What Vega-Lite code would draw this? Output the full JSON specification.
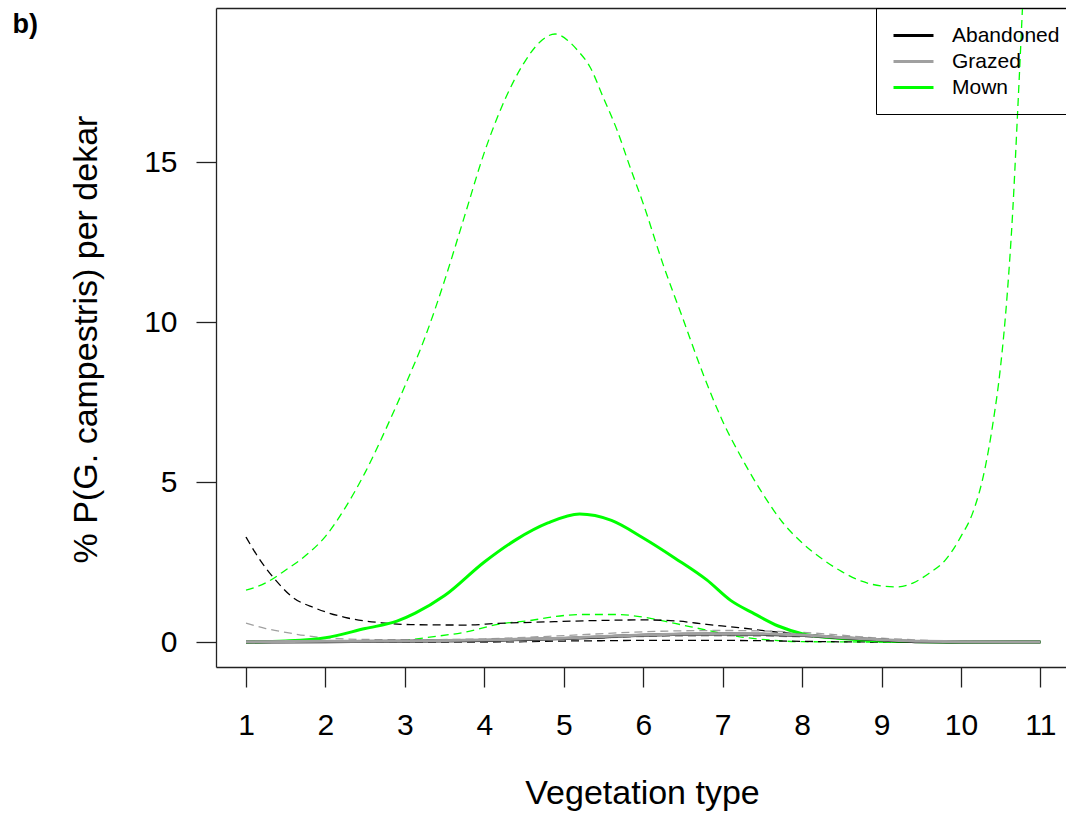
{
  "$schema": "https://vega.github.io/schema/vega-lite/v6.json",
  "autosize": {"type": "none"},
  "width": 850,
  "height": 659,
  "padding": {"left": 216, "top": 8, "right": 0, "bottom": 149},
  "background": "white",
  "config": {
    "view": {"stroke": null},
    "font": "Liberation Sans",
    "axis": {"grid": false, "labelFont": "Liberation Sans", "titleFont": "Liberation Sans", "labelColor": "#000000", "titleColor": "#000000", "titleFontWeight": "normal", "domainColor": "#222222", "tickColor": "#222222", "domainWidth": 1.3, "tickWidth": 1.3},
    "legend": {"labelFont": "Liberation Sans"}
  },
  "data": {"values": [
    {"v":1,"y":0,"t":"Mown","s":"mean"},{"v":1.5,"y":0.03,"t":"Mown","s":"mean"},{"v":2,"y":0.13,"t":"Mown","s":"mean"},{"v":2.5,"y":0.42,"t":"Mown","s":"mean"},{"v":2.9,"y":0.65,"t":"Mown","s":"mean"},{"v":3.13,"y":0.9,"t":"Mown","s":"mean"},{"v":3.5,"y":1.45,"t":"Mown","s":"mean"},{"v":4,"y":2.5,"t":"Mown","s":"mean"},{"v":4.4,"y":3.2,"t":"Mown","s":"mean"},{"v":4.8,"y":3.72,"t":"Mown","s":"mean"},{"v":5.2,"y":4.0,"t":"Mown","s":"mean"},{"v":5.6,"y":3.8,"t":"Mown","s":"mean"},{"v":6,"y":3.25,"t":"Mown","s":"mean"},{"v":6.4,"y":2.62,"t":"Mown","s":"mean"},{"v":6.8,"y":1.94,"t":"Mown","s":"mean"},{"v":7.1,"y":1.3,"t":"Mown","s":"mean"},{"v":7.4,"y":0.88,"t":"Mown","s":"mean"},{"v":7.7,"y":0.5,"t":"Mown","s":"mean"},{"v":8,"y":0.26,"t":"Mown","s":"mean"},{"v":8.5,"y":0.11,"t":"Mown","s":"mean"},{"v":9,"y":0.03,"t":"Mown","s":"mean"},{"v":9.5,"y":0.01,"t":"Mown","s":"mean"},{"v":10,"y":0,"t":"Mown","s":"mean"},{"v":10.5,"y":0,"t":"Mown","s":"mean"},{"v":11,"y":0,"t":"Mown","s":"mean"},
    {"v":1,"y":1.62,"t":"Mown","s":"upper"},{"v":1.25,"y":1.85,"t":"Mown","s":"upper"},{"v":1.5,"y":2.25,"t":"Mown","s":"upper"},{"v":1.75,"y":2.7,"t":"Mown","s":"upper"},{"v":2,"y":3.3,"t":"Mown","s":"upper"},{"v":2.25,"y":4.2,"t":"Mown","s":"upper"},{"v":2.5,"y":5.3,"t":"Mown","s":"upper"},{"v":2.75,"y":6.6,"t":"Mown","s":"upper"},{"v":3,"y":8.0,"t":"Mown","s":"upper"},{"v":3.25,"y":9.5,"t":"Mown","s":"upper"},{"v":3.5,"y":11.3,"t":"Mown","s":"upper"},{"v":3.75,"y":13.3,"t":"Mown","s":"upper"},{"v":4,"y":15.3,"t":"Mown","s":"upper"},{"v":4.25,"y":16.9,"t":"Mown","s":"upper"},{"v":4.5,"y":18.1,"t":"Mown","s":"upper"},{"v":4.7,"y":18.75,"t":"Mown","s":"upper"},{"v":4.89,"y":19.0,"t":"Mown","s":"upper"},{"v":5.05,"y":18.8,"t":"Mown","s":"upper"},{"v":5.17,"y":18.5,"t":"Mown","s":"upper"},{"v":5.33,"y":17.97,"t":"Mown","s":"upper"},{"v":5.5,"y":17.0,"t":"Mown","s":"upper"},{"v":5.67,"y":16.0,"t":"Mown","s":"upper"},{"v":5.84,"y":14.8,"t":"Mown","s":"upper"},{"v":6,"y":13.7,"t":"Mown","s":"upper"},{"v":6.25,"y":11.8,"t":"Mown","s":"upper"},{"v":6.5,"y":10.1,"t":"Mown","s":"upper"},{"v":6.75,"y":8.4,"t":"Mown","s":"upper"},{"v":7,"y":6.9,"t":"Mown","s":"upper"},{"v":7.25,"y":5.7,"t":"Mown","s":"upper"},{"v":7.5,"y":4.65,"t":"Mown","s":"upper"},{"v":7.75,"y":3.75,"t":"Mown","s":"upper"},{"v":8,"y":3.1,"t":"Mown","s":"upper"},{"v":8.25,"y":2.6,"t":"Mown","s":"upper"},{"v":8.5,"y":2.2,"t":"Mown","s":"upper"},{"v":8.75,"y":1.9,"t":"Mown","s":"upper"},{"v":9,"y":1.75,"t":"Mown","s":"upper"},{"v":9.2,"y":1.72,"t":"Mown","s":"upper"},{"v":9.4,"y":1.85,"t":"Mown","s":"upper"},{"v":9.6,"y":2.15,"t":"Mown","s":"upper"},{"v":9.8,"y":2.55,"t":"Mown","s":"upper"},{"v":10,"y":3.3,"t":"Mown","s":"upper"},{"v":10.15,"y":4.05,"t":"Mown","s":"upper"},{"v":10.3,"y":5.4,"t":"Mown","s":"upper"},{"v":10.4,"y":6.8,"t":"Mown","s":"upper"},{"v":10.5,"y":8.65,"t":"Mown","s":"upper"},{"v":10.58,"y":10.8,"t":"Mown","s":"upper"},{"v":10.65,"y":13.4,"t":"Mown","s":"upper"},{"v":10.71,"y":16.4,"t":"Mown","s":"upper"},{"v":10.77,"y":19.6,"t":"Mown","s":"upper"},{"v":10.85,"y":24,"t":"Mown","s":"upper"},{"v":11,"y":36,"t":"Mown","s":"upper"},
    {"v":1,"y":0,"t":"Mown","s":"lower"},{"v":2,"y":0,"t":"Mown","s":"lower"},{"v":2.5,"y":0.01,"t":"Mown","s":"lower"},{"v":3,"y":0.06,"t":"Mown","s":"lower"},{"v":3.34,"y":0.16,"t":"Mown","s":"lower"},{"v":3.76,"y":0.31,"t":"Mown","s":"lower"},{"v":4.17,"y":0.55,"t":"Mown","s":"lower"},{"v":4.6,"y":0.68,"t":"Mown","s":"lower"},{"v":4.9,"y":0.8,"t":"Mown","s":"lower"},{"v":5.25,"y":0.86,"t":"Mown","s":"lower"},{"v":5.65,"y":0.86,"t":"Mown","s":"lower"},{"v":6,"y":0.78,"t":"Mown","s":"lower"},{"v":6.4,"y":0.58,"t":"Mown","s":"lower"},{"v":6.8,"y":0.37,"t":"Mown","s":"lower"},{"v":7.2,"y":0.17,"t":"Mown","s":"lower"},{"v":7.6,"y":0.06,"t":"Mown","s":"lower"},{"v":8,"y":0.01,"t":"Mown","s":"lower"},{"v":9,"y":0,"t":"Mown","s":"lower"},{"v":10,"y":0,"t":"Mown","s":"lower"},{"v":11,"y":0,"t":"Mown","s":"lower"},
    {"v":1,"y":3.28,"t":"Abandoned","s":"upper"},{"v":1.15,"y":2.66,"t":"Abandoned","s":"upper"},{"v":1.37,"y":1.94,"t":"Abandoned","s":"upper"},{"v":1.58,"y":1.41,"t":"Abandoned","s":"upper"},{"v":1.87,"y":1.06,"t":"Abandoned","s":"upper"},{"v":2.28,"y":0.75,"t":"Abandoned","s":"upper"},{"v":2.71,"y":0.6,"t":"Abandoned","s":"upper"},{"v":3.13,"y":0.54,"t":"Abandoned","s":"upper"},{"v":3.76,"y":0.53,"t":"Abandoned","s":"upper"},{"v":4.17,"y":0.58,"t":"Abandoned","s":"upper"},{"v":4.8,"y":0.63,"t":"Abandoned","s":"upper"},{"v":5.4,"y":0.67,"t":"Abandoned","s":"upper"},{"v":6,"y":0.69,"t":"Abandoned","s":"upper"},{"v":6.4,"y":0.66,"t":"Abandoned","s":"upper"},{"v":6.8,"y":0.55,"t":"Abandoned","s":"upper"},{"v":7.2,"y":0.45,"t":"Abandoned","s":"upper"},{"v":7.64,"y":0.32,"t":"Abandoned","s":"upper"},{"v":8.07,"y":0.22,"t":"Abandoned","s":"upper"},{"v":8.48,"y":0.15,"t":"Abandoned","s":"upper"},{"v":8.9,"y":0.08,"t":"Abandoned","s":"upper"},{"v":9.3,"y":0.03,"t":"Abandoned","s":"upper"},{"v":9.7,"y":0.01,"t":"Abandoned","s":"upper"},{"v":10,"y":0,"t":"Abandoned","s":"upper"},{"v":11,"y":0,"t":"Abandoned","s":"upper"},
    {"v":1,"y":0.0,"t":"Abandoned","s":"mean"},{"v":2,"y":0.01,"t":"Abandoned","s":"mean"},{"v":3,"y":0.02,"t":"Abandoned","s":"mean"},{"v":4,"y":0.05,"t":"Abandoned","s":"mean"},{"v":4.5,"y":0.08,"t":"Abandoned","s":"mean"},{"v":5,"y":0.11,"t":"Abandoned","s":"mean"},{"v":5.5,"y":0.16,"t":"Abandoned","s":"mean"},{"v":6,"y":0.21,"t":"Abandoned","s":"mean"},{"v":6.5,"y":0.24,"t":"Abandoned","s":"mean"},{"v":7,"y":0.25,"t":"Abandoned","s":"mean"},{"v":7.5,"y":0.24,"t":"Abandoned","s":"mean"},{"v":8,"y":0.21,"t":"Abandoned","s":"mean"},{"v":8.5,"y":0.13,"t":"Abandoned","s":"mean"},{"v":9,"y":0.06,"t":"Abandoned","s":"mean"},{"v":9.5,"y":0.01,"t":"Abandoned","s":"mean"},{"v":10,"y":0,"t":"Abandoned","s":"mean"},{"v":11,"y":0,"t":"Abandoned","s":"mean"},
    {"v":1,"y":0,"t":"Abandoned","s":"lower"},{"v":4,"y":0,"t":"Abandoned","s":"lower"},{"v":4.5,"y":0.01,"t":"Abandoned","s":"lower"},{"v":5,"y":0.03,"t":"Abandoned","s":"lower"},{"v":5.5,"y":0.04,"t":"Abandoned","s":"lower"},{"v":6,"y":0.05,"t":"Abandoned","s":"lower"},{"v":7,"y":0.05,"t":"Abandoned","s":"lower"},{"v":7.5,"y":0.04,"t":"Abandoned","s":"lower"},{"v":8,"y":0.02,"t":"Abandoned","s":"lower"},{"v":9,"y":0,"t":"Abandoned","s":"lower"},{"v":10,"y":0,"t":"Abandoned","s":"lower"},{"v":11,"y":0,"t":"Abandoned","s":"lower"},
    {"v":1,"y":0.01,"t":"Grazed","s":"mean"},{"v":2,"y":0.02,"t":"Grazed","s":"mean"},{"v":3,"y":0.03,"t":"Grazed","s":"mean"},{"v":4,"y":0.06,"t":"Grazed","s":"mean"},{"v":4.5,"y":0.09,"t":"Grazed","s":"mean"},{"v":5,"y":0.12,"t":"Grazed","s":"mean"},{"v":5.5,"y":0.17,"t":"Grazed","s":"mean"},{"v":6,"y":0.22,"t":"Grazed","s":"mean"},{"v":6.5,"y":0.25,"t":"Grazed","s":"mean"},{"v":7,"y":0.26,"t":"Grazed","s":"mean"},{"v":7.5,"y":0.25,"t":"Grazed","s":"mean"},{"v":8,"y":0.22,"t":"Grazed","s":"mean"},{"v":8.5,"y":0.14,"t":"Grazed","s":"mean"},{"v":9,"y":0.07,"t":"Grazed","s":"mean"},{"v":9.5,"y":0.02,"t":"Grazed","s":"mean"},{"v":10,"y":0.01,"t":"Grazed","s":"mean"},{"v":11,"y":0,"t":"Grazed","s":"mean"},
    {"v":1,"y":0.59,"t":"Grazed","s":"upper"},{"v":1.25,"y":0.42,"t":"Grazed","s":"upper"},{"v":1.5,"y":0.3,"t":"Grazed","s":"upper"},{"v":1.75,"y":0.2,"t":"Grazed","s":"upper"},{"v":2,"y":0.13,"t":"Grazed","s":"upper"},{"v":2.5,"y":0.08,"t":"Grazed","s":"upper"},{"v":3,"y":0.07,"t":"Grazed","s":"upper"},{"v":4,"y":0.1,"t":"Grazed","s":"upper"},{"v":5,"y":0.2,"t":"Grazed","s":"upper"},{"v":6,"y":0.32,"t":"Grazed","s":"upper"},{"v":7,"y":0.36,"t":"Grazed","s":"upper"},{"v":8,"y":0.3,"t":"Grazed","s":"upper"},{"v":9,"y":0.12,"t":"Grazed","s":"upper"},{"v":10,"y":0.02,"t":"Grazed","s":"upper"},{"v":11,"y":0,"t":"Grazed","s":"upper"},
    {"v":1,"y":0,"t":"Grazed","s":"lower"},{"v":4,"y":0.01,"t":"Grazed","s":"lower"},{"v":5,"y":0.08,"t":"Grazed","s":"lower"},{"v":6,"y":0.17,"t":"Grazed","s":"lower"},{"v":7,"y":0.19,"t":"Grazed","s":"lower"},{"v":8,"y":0.16,"t":"Grazed","s":"lower"},{"v":9,"y":0.04,"t":"Grazed","s":"lower"},{"v":10,"y":0,"t":"Grazed","s":"lower"},{"v":11,"y":0,"t":"Grazed","s":"lower"}
  ]},
  "layer": [
    {
      "transform": [{"filter": "datum.s !== 'mean'"}],
      "mark": {"type": "line", "clip": true, "interpolate": "monotone", "strokeWidth": 1.3, "strokeDash": [8, 5]},
      "encoding": {
        "x": {"field": "v", "type": "quantitative", "scale": {"domain": [0.622, 11.322], "nice": false, "zero": false},
          "axis": {"orient": "bottom", "values": [1,2,3,4,5,6,7,8,9,10,11], "tickSize": 20, "labelFontSize": 30, "labelPadding": 23, "labelFlush": false, "title": "Vegetation type", "titleFontSize": 34, "titleX": 426, "titleY": 136, "titleBaseline": "alphabetic", "titleAlign": "center"}},
        "y": {"field": "y", "type": "quantitative", "scale": {"domain": [-0.78125, 19.8125], "nice": false, "zero": false},
          "axis": {"values": [0, 5, 10, 15], "tickSize": 20, "labelFontSize": 30, "labelPadding": 19, "labelFlush": false, "title": "% P(G. campestris) per dekar", "titleFontSize": 34, "titleX": -120, "titleY": 331, "titleAngle": -90, "titleBaseline": "alphabetic", "titleAlign": "center"}},
        "color": {"field": "t", "type": "nominal", "scale": {"domain": ["Abandoned", "Grazed", "Mown"], "range": ["#000000", "#A0A0A0", "#00FF00"]},
          "legend": {"title": null, "orient": "none", "legendX": 660, "legendY": 0, "strokeColor": "#000000", "padding": 16, "symbolType": "M-2,0H2", "symbolSize": 400, "symbolStrokeWidth": 3, "symbolDash": [1, 0], "symbolFillColor": "transparent", "symbolOffset": 10, "labelFontSize": 21, "labelColor": "#000000", "labelOffset": 27, "rowPadding": 4}},
        "detail": {"field": "s"}
      }
    },
    {
      "transform": [{"filter": "datum.s === 'mean'"}],
      "mark": {"type": "line", "clip": true, "interpolate": "monotone", "strokeWidth": 3},
      "encoding": {
        "x": {"field": "v", "type": "quantitative", "axis": {"orient": "top", "labels": false, "ticks": false, "domain": true, "title": "b)", "titleFont": "Liberation Sans", "titleFontSize": 27, "titleFontWeight": "bold", "titleX": -204, "titleY": 24, "titleAlign": "left", "titleBaseline": "alphabetic", "titleAngle": 0}},
        "y": {"field": "y", "type": "quantitative"},
        "color": {"field": "t", "type": "nominal"}
      }
    }
  ],
  "resolve": {"axis": {"x": "independent"}}
}
